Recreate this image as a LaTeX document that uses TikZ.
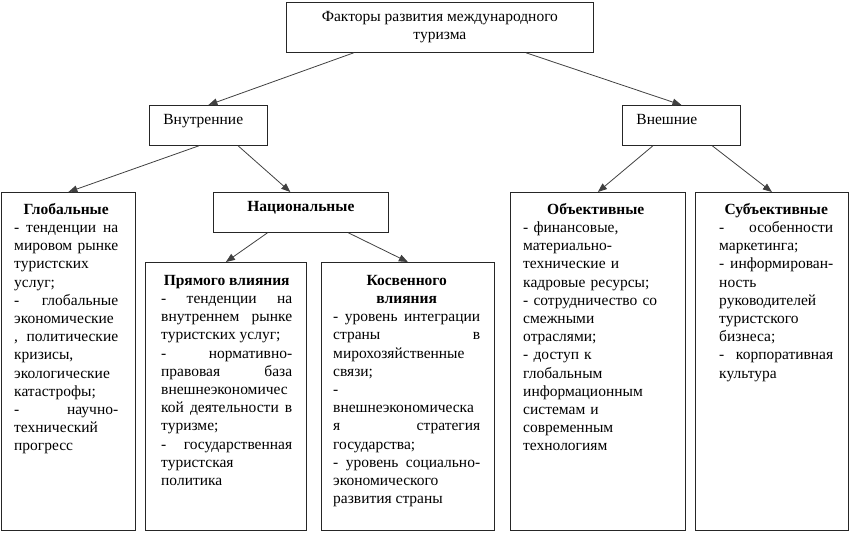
\documentclass[tikz,border=0pt]{standalone}
\usepackage{fontspec}
\setmainfont{Liberation Serif}
\usetikzlibrary{arrows.meta, calc}
\setlength{\parindent}{0pt}
\tolerance=10000
\hyphenpenalty=10000

\tikzset{
  factorbox/.style={draw=black!85, line width=0.8pt, anchor=north west, inner sep=0pt},
  headbox/.style={factorbox, minimum height=40pt, text depth=11pt},
  listbox/.style={factorbox, minimum height=338pt},
  listtext/.style={anchor=north west, inner sep=0pt, text width=#1, align=justify},
  link/.style={draw=black!75, line width=0.8pt, -{Triangle[length=9pt, width=7pt]}}
}

\begin{document}
\begin{tikzpicture}[x=1pt, y=-1pt, font=\fontsize{15.5}{18.2}\selectfont]
    \useasboundingbox (0,0) rectangle (850,533);

    % Top level
    \node[factorbox, minimum width=307pt, minimum height=50pt, align=center] (top) at (286,2)
        {Факторы развития международного\\туризма};

    % Second level
    \node[headbox, text width=90pt, inner xsep=14pt, align=left] (vnut) at (149,105) {Внутренние};
    \node[headbox, text width=90pt, inner xsep=14pt, align=left] (vnesh) at (622,105) {Внешние};

    % Third level
    \node[listbox, minimum width=134pt] (glob) at (1,192) {};
    \node[headbox, minimum width=175pt] (nac) at (213,192) {\textbf{Национальные}};
    \node[listbox, minimum width=175pt] (obj) at (510,192) {};
    \node[listbox, minimum width=153pt] (subj) at (695,192) {};

    % Fourth level
    \node[factorbox, minimum width=161pt, minimum height=268pt] (pryam) at (145,262) {};
    \node[factorbox, minimum width=173pt, minimum height=268pt] (kosv) at (321,262) {};

    % Texts of the boxes
    \node[listtext=104pt] (globtext) at (14,203) {%
        {\centering\textbf{Глобальные}\par}
        - тенденции на\linebreak
        мировом рынке\linebreak
        туристских\newline
        услуг;\par
        - глобальные\linebreak
        экономические\newline
        , политические\linebreak
        кризисы,\newline
        экологические\newline
        катастрофы;\par
        - научно-\linebreak
        технический\newline
        прогресс};

    \node[listtext=131pt] (pryamtext) at (161,275) {%
        {\centering\textbf{Прямого влияния}\par}
        - тенденции на\linebreak
        внутреннем рынке\linebreak
        туристских услуг;\par
        - нормативно-\linebreak
        правовая база\linebreak
        внешнеэкономичес\newline
        кой деятельности в\linebreak
        туризме;\par
        - государственная\linebreak
        туристская\newline
        политика};

    \node[listtext=147pt] (kosvtext) at (333,275) {%
        {\centering\textbf{Косвенного}\par\textbf{влияния}\par}
        - уровень интеграции\linebreak
        страны в\linebreak
        мирохозяйственные\newline
        связи;\par
        -\newline
        внешнеэкономическа\newline
        я стратегия\linebreak
        государства;\par
        - уровень социально-\linebreak
        экономического\newline
        развития страны};

    \node[listtext=150pt, align=left] (objtext) at (523,203) {%
        \hspace*{24pt}\textbf{Объективные}\par
        - финансовые,\newline
        материально-\newline
        технические и\newline
        кадровые ресурсы;\par
        - сотрудничество со\newline
        смежными\newline
        отраслями;\par
        - доступ к\newline
        глобальным\newline
        информационным\newline
        системам и\newline
        современным\newline
        технологиям};

    \node[listtext=114pt] (subjtext) at (719,203) {%
        {\centering\textbf{Субъективные}\par}
        - особенности\linebreak
        маркетинга;\par
        - информирован-\linebreak
        ность\newline
        руководителей\newline
        туристского\newline
        бизнеса;\par
        - корпоративная\linebreak
        культура};

    % Arrows
    \draw[link] ($(top.south west)!0.22!(top.south east)$) -- (vnut.north);
    \draw[link] ($(top.south west)!0.78!(top.south east)$) -- (vnesh.north);
    \draw[link] ($(vnut.south west)!0.42!(vnut.south east)$) -- (glob.north);
    \draw[link] ($(vnut.south west)!0.75!(vnut.south east)$) -- ($(nac.north west)!0.44!(nac.north east)$);
    \draw[link] ($(nac.south west)!0.31!(nac.south east)$) -- (pryam.north);
    \draw[link] ($(nac.south west)!0.77!(nac.south east)$) -- (kosv.north);
    \draw[link] ($(vnesh.south west)!0.26!(vnesh.south east)$) -- (obj.north);
    \draw[link] ($(vnesh.south west)!0.76!(vnesh.south east)$) -- (subj.north);
\end{tikzpicture}
\end{document}
